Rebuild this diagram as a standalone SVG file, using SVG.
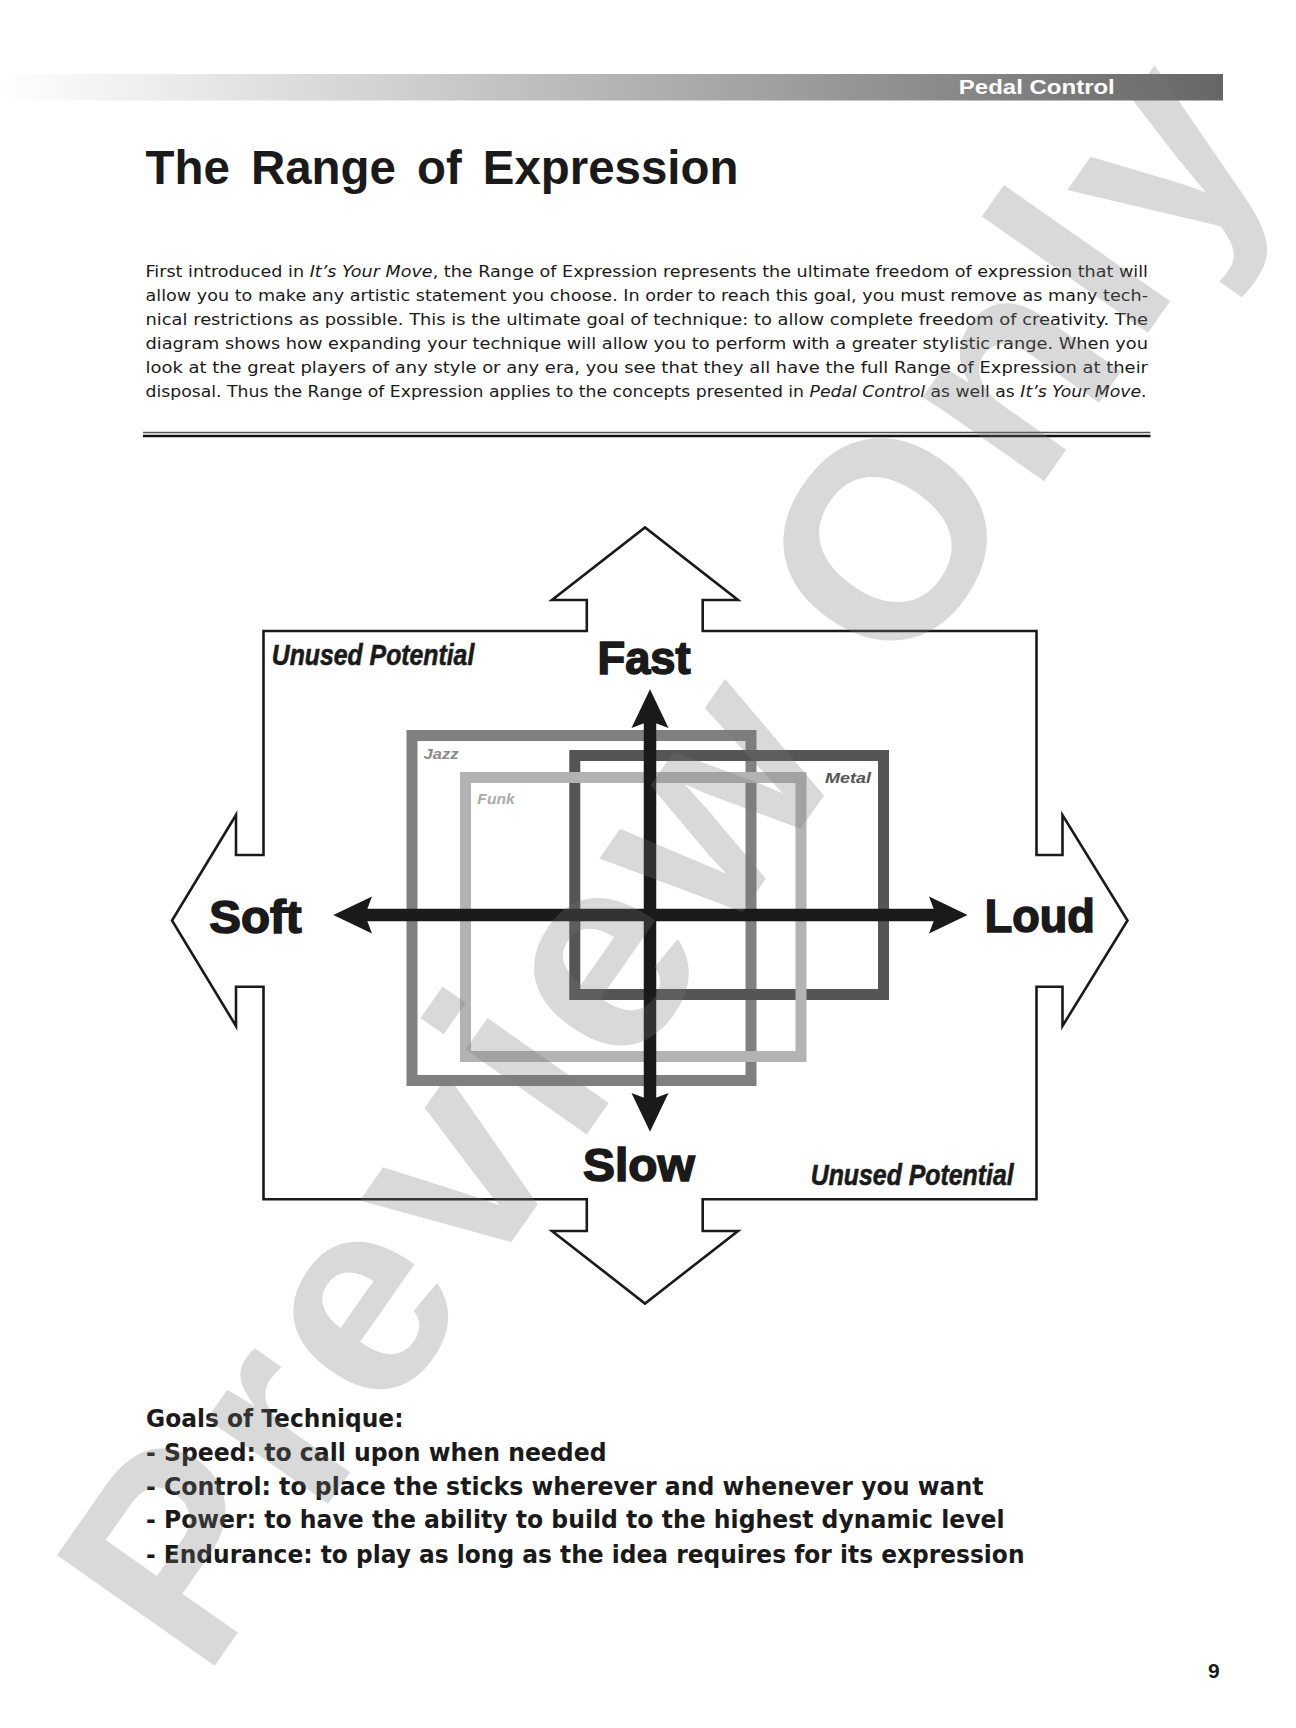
<svg xmlns="http://www.w3.org/2000/svg" width="1296" height="1728" viewBox="0 0 1296 1728">
<defs>
<linearGradient id="bar" x1="0" y1="0" x2="1" y2="0">
<stop offset="0" stop-color="#ffffff"/>
<stop offset="0.3" stop-color="#d4d4d4"/>
<stop offset="1" stop-color="#666666"/>
</linearGradient>
<style>
.body{font-family:"DejaVu Sans","Liberation Sans",sans-serif;font-size:16.6px;fill:#1a1a1a}
.goal{font-family:"DejaVu Sans","Liberation Sans",sans-serif;font-size:25px;font-weight:bold;fill:#1a1a1a}
.big{font-family:"Liberation Sans","DejaVu Sans",sans-serif;font-size:46px;font-weight:bold;fill:#1a1a1a;stroke:#1a1a1a;stroke-width:1.6}
.unused{font-family:"Liberation Sans","DejaVu Sans",sans-serif;font-size:29px;font-weight:bold;font-style:italic;fill:#1a1a1a;stroke:#1a1a1a;stroke-width:0.6}
.style{font-family:"Liberation Sans","DejaVu Sans",sans-serif;font-size:15px;font-weight:bold;font-style:italic}
.box{fill:none;stroke-width:11}
.axis{stroke:#1a1a1a;stroke-width:12.5;fill:none}
.head{fill:#1a1a1a}
</style>
</defs>
<rect width="1296" height="1728" fill="#ffffff"/>
<g id="header">
<rect x="0" y="74" width="1223" height="26.5" fill="url(#bar)"/>
<text x="958.8" y="94" font-family="Liberation Sans, sans-serif" font-size="21" font-weight="bold" fill="#ffffff" textLength="156" lengthAdjust="spacingAndGlyphs">Pedal Control</text>
</g>
<g id="title">
<text x="145.5" y="184" font-family="Liberation Sans, sans-serif" font-size="48" font-weight="bold" fill="#1a1a1a" word-spacing="8" textLength="593" lengthAdjust="spacingAndGlyphs">The Range of Expression</text>
</g>
<g id="paragraph" class="body">
<text class="body" x="145.5" y="277" textLength="1002.5" lengthAdjust="spacingAndGlyphs">First introduced in <tspan font-style="italic">It’s Your Move</tspan>, the Range of Expression represents the ultimate freedom of expression that will</text>
<text class="body" x="145.5" y="301" textLength="1002.5" lengthAdjust="spacingAndGlyphs">allow you to make any artistic statement you choose. In order to reach this goal, you must remove as many tech-</text>
<text class="body" x="145.5" y="325" textLength="1002.5" lengthAdjust="spacingAndGlyphs">nical restrictions as possible. This is the ultimate goal of technique: to allow complete freedom of creativity. The</text>
<text class="body" x="145.5" y="349" textLength="1002.5" lengthAdjust="spacingAndGlyphs">diagram shows how expanding your technique will allow you to perform with a greater stylistic range. When you</text>
<text class="body" x="145.5" y="373" textLength="1002.5" lengthAdjust="spacingAndGlyphs">look at the great players of any style or any era, you see that they all have the full Range of Expression at their</text>
<text class="body" x="145.5" y="397" textLength="1001" lengthAdjust="spacingAndGlyphs">disposal. Thus the Range of Expression applies to the concepts presented in <tspan font-style="italic">Pedal Control</tspan> as well as <tspan font-style="italic">It’s Your Move</tspan>.</text>
</g>
<g id="rule">
<line x1="143" y1="432.5" x2="1150.5" y2="432.5" stroke="#555555" stroke-width="1.5"/>
<line x1="143" y1="436" x2="1150.5" y2="436" stroke="#111111" stroke-width="2.5"/>
</g>
<g id="frame">
<polygon points="263.5,631 586.8,631 586.8,600 552,600 645,527.5 738,600 702.7,600 702.7,631 1036.5,631 1036.5,855 1062.5,855 1062.5,815 1127.5,920.5 1062.5,1026 1062.5,986.7 1036.5,986.7 1036.5,1199.3 702.7,1199.3 702.7,1231 738,1231 645,1303.5 552,1231 586.8,1231 586.8,1199.3 263.5,1199.3 263.5,986.7 236,986.7 236,1026 172,920.5 236,815 236,855 263.5,855" fill="none" stroke="#1a1a1a" stroke-width="2.6" stroke-linejoin="miter"/>
</g>
<g id="jazz">
<rect class="box" x="412" y="735.5" width="339" height="345" stroke="#808080"/>
<text class="style" x="423.6" y="759.3" fill="#8a8a8a" textLength="35" lengthAdjust="spacingAndGlyphs">Jazz</text>
</g>
<g id="metal">
<rect class="box" x="574.8" y="755.5" width="308.7" height="239" stroke="#555555"/>
<text class="style" x="825" y="783.3" fill="#555555" textLength="46" lengthAdjust="spacingAndGlyphs">Metal</text>
</g>
<g id="funk">
<rect class="box" x="465.5" y="777.5" width="335.5" height="279" stroke="#b3b3b3"/>
<text class="style" x="477.3" y="804" fill="#ababab" textLength="37.5" lengthAdjust="spacingAndGlyphs">Funk</text>
</g>
<g id="connectors">
<line class="axis" x1="365" y1="915" x2="936" y2="915"/>
<line class="axis" x1="650" y1="721" x2="650" y2="1100"/>
<path class="head" d="M967.6,915 L929,896.5 L936,915 L929,933.5 Z"/>
<path class="head" d="M333.3,915 L372,896.5 L365,915 L372,933.5 Z"/>
<path class="head" d="M650,689.3 L631.5,728 L650,721 L668.5,728 Z"/>
<path class="head" d="M650,1131.7 L631.5,1093 L650,1100 L668.5,1093 Z"/>
</g>
<g id="labels">
<text id="fast" class="big" x="597.5" y="674" textLength="93" lengthAdjust="spacingAndGlyphs">Fast</text>
<text id="slow" class="big" x="583" y="1180.7" textLength="111.7" lengthAdjust="spacingAndGlyphs">Slow</text>
<text id="soft" class="big" x="209.3" y="933.3" textLength="92.4" lengthAdjust="spacingAndGlyphs">Soft</text>
<text id="loud" class="big" x="984.8" y="931.7" textLength="110" lengthAdjust="spacingAndGlyphs">Loud</text>
<text id="unused-top" class="unused" x="271.8" y="665" textLength="202.5" lengthAdjust="spacingAndGlyphs">Unused Potential</text>
<text id="unused-bottom" class="unused" x="810.7" y="1185" textLength="203" lengthAdjust="spacingAndGlyphs">Unused Potential</text>
</g>
<g id="goals">
<text class="goal" x="146" y="1426.7" textLength="257.5" lengthAdjust="spacingAndGlyphs">Goals of Technique:</text>
<text class="goal" x="146" y="1460.7" textLength="460.5" lengthAdjust="spacingAndGlyphs">- Speed: to call upon when needed</text>
<text class="goal" x="146" y="1495" textLength="837.5" lengthAdjust="spacingAndGlyphs">- Control: to place the sticks wherever and whenever you want</text>
<text class="goal" x="146" y="1528.3" textLength="858.5" lengthAdjust="spacingAndGlyphs">- Power: to have the ability to build to the highest dynamic level</text>
<text class="goal" x="146" y="1562.7" textLength="878.5" lengthAdjust="spacingAndGlyphs">- Endurance: to play as long as the idea requires for its expression</text>
</g>
<g id="page-number">
<text x="1208" y="1678" font-family="Liberation Sans, sans-serif" font-size="21" font-weight="bold" fill="#1a1a1a">9</text>
</g>
<g id="watermark">
<text transform="translate(204,1681) rotate(-55)" x="0" y="0" font-family="Liberation Sans, sans-serif" font-size="280" font-weight="bold" fill="#777777" fill-opacity="0.28" textLength="1870" lengthAdjust="spacing">Preview Only</text>
</g>
</svg>
